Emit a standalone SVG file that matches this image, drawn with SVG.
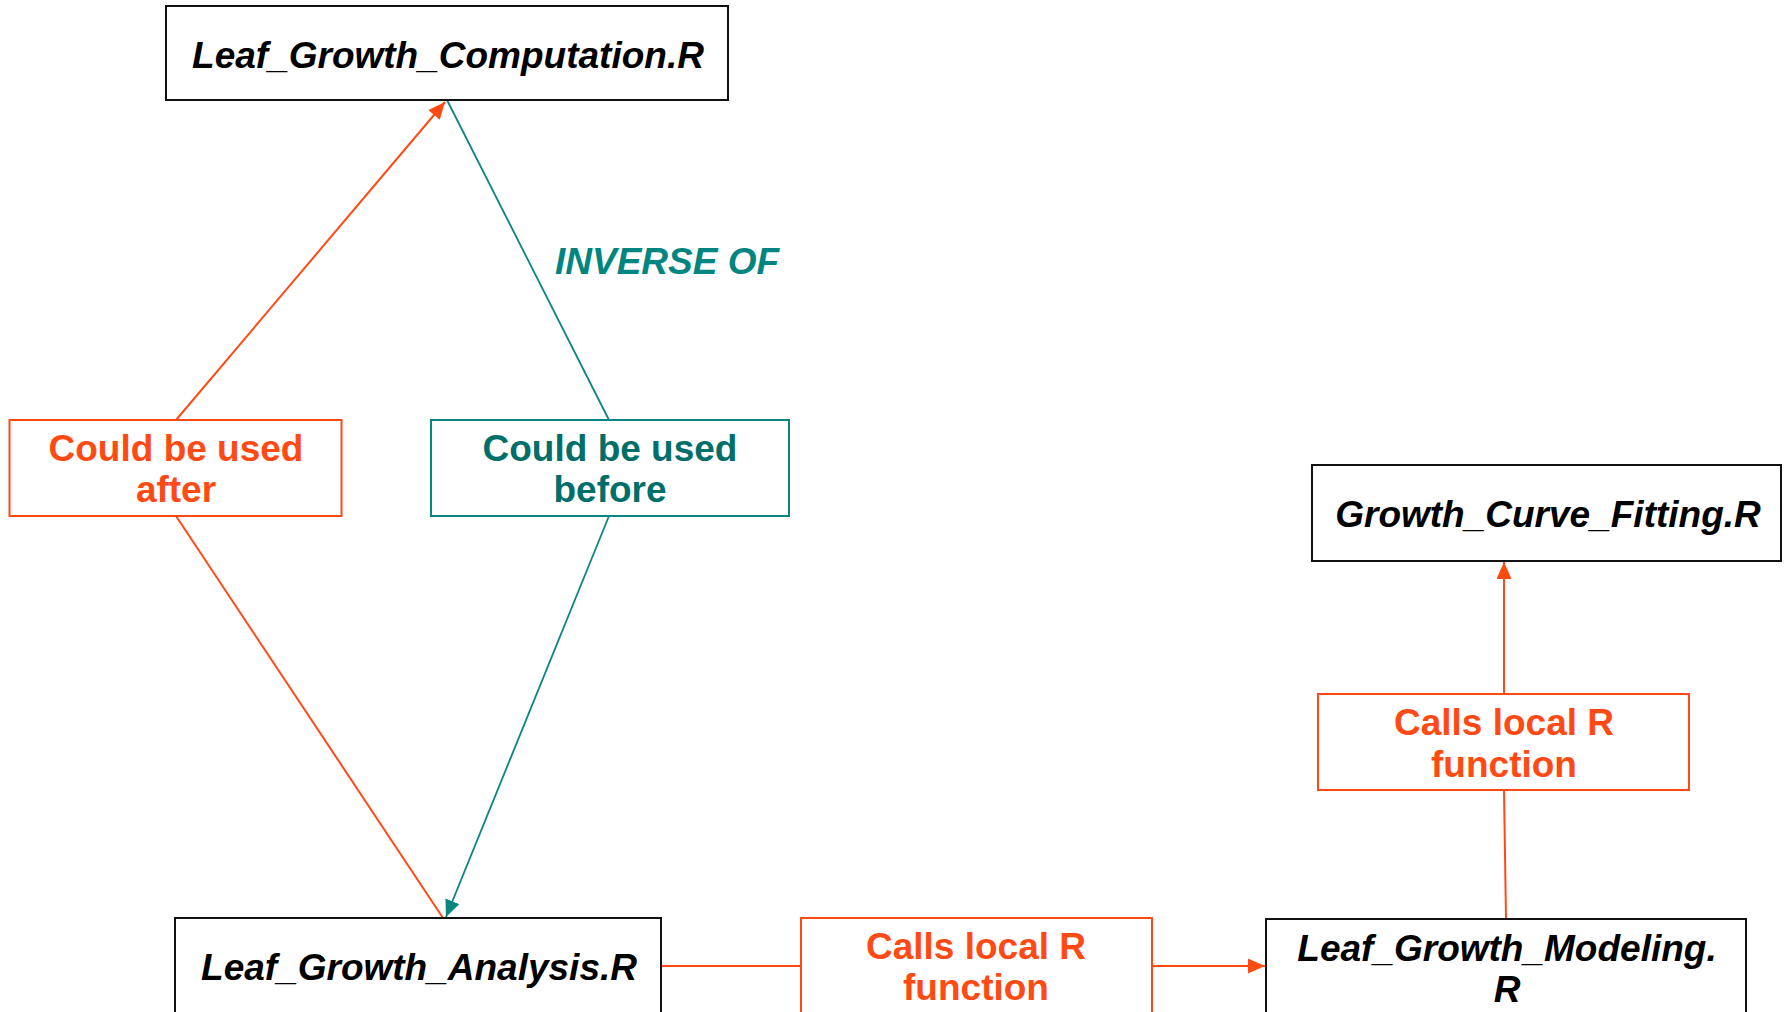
<svg xmlns="http://www.w3.org/2000/svg" width="1787" height="1012" viewBox="0 0 1787 1012">
  <style>
    .file rect { fill: #ffffff; stroke: #111111; stroke-width: 2; }
    .file text { font-family: "Liberation Sans", Arial, sans-serif; font-size: 37px; font-weight: bold; font-style: italic; fill: #000000; text-anchor: middle; }
    .lab-o rect { fill: #ffffff; stroke: #ff4a14; stroke-width: 2; }
    .lab-o text { font-family: "Liberation Sans", Arial, sans-serif; font-size: 37px; font-weight: bold; fill: #ff4a14; text-anchor: middle; }
    .lab-t rect { fill: #ffffff; stroke: #0b8580; stroke-width: 2; }
    .lab-t text { font-family: "Liberation Sans", Arial, sans-serif; font-size: 37px; font-weight: bold; fill: #006e69; text-anchor: middle; }
    .inv { font-family: "Liberation Sans", Arial, sans-serif; font-size: 37px; font-weight: bold; font-style: italic; fill: #008580; }
    .eo { fill: none; stroke: #ff4a14; stroke-width: 2; }
    .et { fill: none; stroke: #0b8580; stroke-width: 1.8; }
    .ghost { fill: #ececec; }
  </style>
  <defs>
    <marker id="arrow-o" markerUnits="userSpaceOnUse" markerWidth="18" markerHeight="15" refX="17" refY="7.5" orient="auto">
      <path d="M0,0 L17,7.5 L0,15 z" fill="#ff4a14"/>
    </marker>
    <marker id="arrow-t" markerUnits="userSpaceOnUse" markerWidth="18" markerHeight="15" refX="17" refY="7.5" orient="auto">
      <path d="M0,0 L17,7.5 L0,15 z" fill="#0b8580"/>
    </marker>
  </defs>

  <rect width="1787" height="1012" fill="#ffffff"/>

  <!-- faint leftover blocks above the top file box -->
  <g id="ghost-blocks">
    <rect class="ghost" x="278" y="11" width="66" height="15"/>
    <rect class="ghost" x="417" y="18" width="66" height="15"/>
    <rect class="ghost" x="485" y="6" width="67" height="15"/>
  </g>

  <!-- connectors -->
  <g id="connectors">
    <line class="eo" x1="176" y1="420" x2="445" y2="102" marker-end="url(#arrow-o)"/>
    <line class="eo" x1="176" y1="516" x2="443" y2="918"/>
    <line class="et" x1="447" y1="100" x2="609" y2="420"/>
    <line class="et" x1="609" y1="516" x2="446" y2="917" marker-end="url(#arrow-t)"/>
    <line class="eo" x1="661" y1="966" x2="801" y2="966"/>
    <line class="eo" x1="1152" y1="966" x2="1265" y2="966" marker-end="url(#arrow-o)"/>
    <line class="eo" x1="1506" y1="919" x2="1504" y2="790"/>
    <line class="eo" x1="1504" y1="694" x2="1504" y2="562" marker-end="url(#arrow-o)"/>
  </g>

  <g id="leaf-growth-computation" class="file">
    <rect x="166" y="6" width="562" height="94"/>
    <text x="448" y="68">Leaf_Growth_Computation.R</text>
  </g>

  <g id="could-be-used-after" class="lab-o">
    <rect x="9.5" y="420" width="332" height="96"/>
    <text x="176" y="461">Could be used</text>
    <text x="176" y="502">after</text>
  </g>

  <g id="could-be-used-before" class="lab-t">
    <rect x="431" y="420" width="358" height="96"/>
    <text x="610" y="461">Could be used</text>
    <text x="610" y="502">before</text>
  </g>

  <text id="inverse-of" class="inv" x="555" y="274">INVERSE OF</text>

  <g id="growth-curve-fitting" class="file">
    <rect x="1312" y="465" width="469" height="96"/>
    <text x="1548" y="527">Growth_Curve_Fitting.R</text>
  </g>

  <g id="calls-local-r-right" class="lab-o">
    <rect x="1318" y="694" width="371" height="96"/>
    <text x="1504" y="735">Calls local R</text>
    <text x="1504" y="777">function</text>
  </g>

  <g id="leaf-growth-analysis" class="file">
    <rect x="175" y="918" width="486" height="110"/>
    <text x="419" y="980">Leaf_Growth_Analysis.R</text>
  </g>

  <g id="calls-local-r-middle" class="lab-o">
    <rect x="801" y="918" width="351" height="110"/>
    <text x="976" y="959">Calls local R</text>
    <text x="976" y="1000">function</text>
  </g>

  <g id="leaf-growth-modeling" class="file">
    <rect x="1266" y="919" width="480" height="110"/>
    <text x="1507" y="961">Leaf_Growth_Modeling.</text>
    <text x="1507" y="1002">R</text>
  </g>
</svg>
